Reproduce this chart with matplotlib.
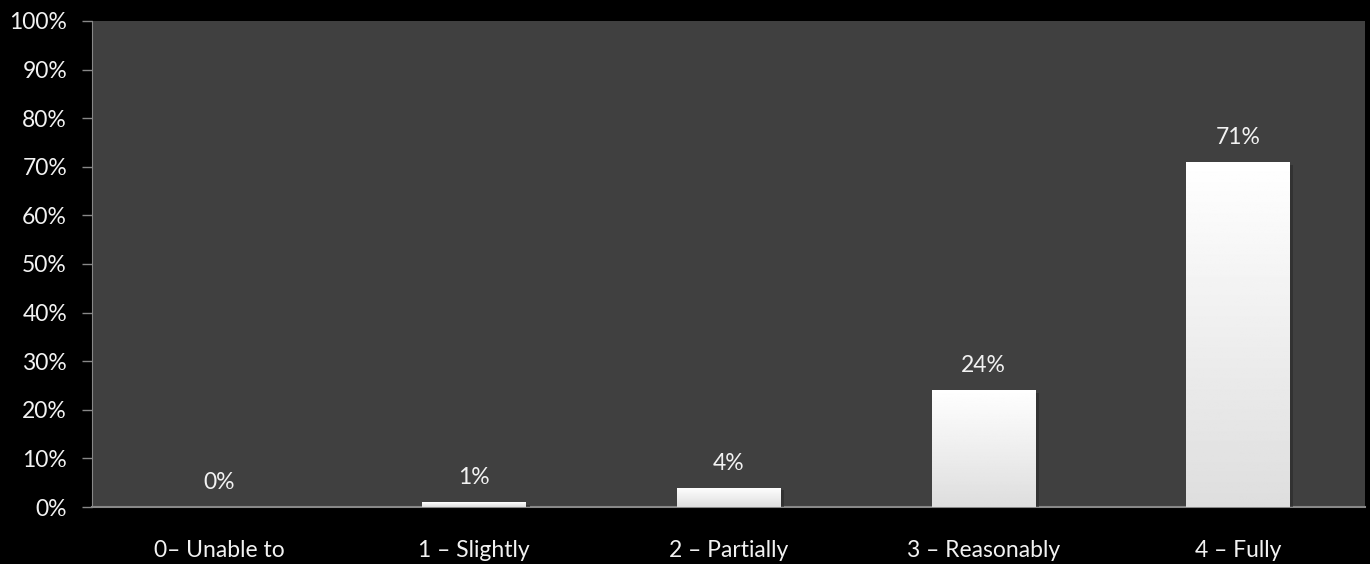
import numpy as np
import matplotlib.pyplot as plt
import matplotlib.patheffects as pe

categories = ['0– Unable to', '1 – Slightly', '2 – Partially', '3 – Reasonably', '4 – Fully']
values = [0, 1, 4, 24, 71]
y_ticks = list(range(0, 101, 10))

plt.rcParams['font.family'] = ['Lato', 'DejaVu Sans']

fig = plt.figure(figsize=(13.7, 5.64), dpi=100, facecolor='black')
ax = fig.add_axes([92 / 1370, 1 - 507 / 564, (1365 - 92) / 1370, (507 - 21) / 564])
ax.set_facecolor('#404040')

x = np.arange(len(categories))
bars = ax.bar(x, values, width=0.405, color='white', zorder=3,
              path_effects=[pe.SimplePatchShadow(offset=(3, -2), shadow_rgbFace='#2a2a2a', alpha=0.6),
                            pe.Normal()])

# vertical gradient on each bar, white at top to light grey at bottom
grad = np.linspace(1.0, 0.87, 256).reshape(-1, 1)
for b in bars:
    if b.get_height() <= 0:
        continue
    x0, w, h = b.get_x(), b.get_width(), b.get_height()
    im = ax.imshow(grad, cmap='gray', vmin=0, vmax=1, aspect='auto',
                   extent=[x0, x0 + w, 0, h], origin='upper', zorder=4)
    im.set_clip_path(b)

for xi, v in zip(x, values):
    ax.annotate(f"{v}%", xy=(xi, v), xytext=(0, 10), textcoords='offset points',
                ha='center', va='bottom', color='#f2f2f2', fontsize=16.5, zorder=5)

ax.set_xlim(-0.5, len(categories) - 0.5)
ax.set_ylim(0, 100)
ax.set_yticks(y_ticks)
ax.set_yticklabels([f"{t}%" for t in y_ticks], color='#f2f2f2', fontsize=16.5)
ax.set_xticks(x)
ax.set_xticklabels(categories, color='#f2f2f2', fontsize=16.5)
ax.tick_params(axis='x', length=0, pad=24)
ax.tick_params(axis='y', length=7, color='#888888', width=1, pad=11)

for side in ['top', 'right']:
    ax.spines[side].set_visible(False)
ax.spines['left'].set_color('#888888')
ax.spines['bottom'].set_color('#888888')
ax.spines['bottom'].set_linewidth(1.5)

fig.savefig('out.png', dpi=100, facecolor='black')
